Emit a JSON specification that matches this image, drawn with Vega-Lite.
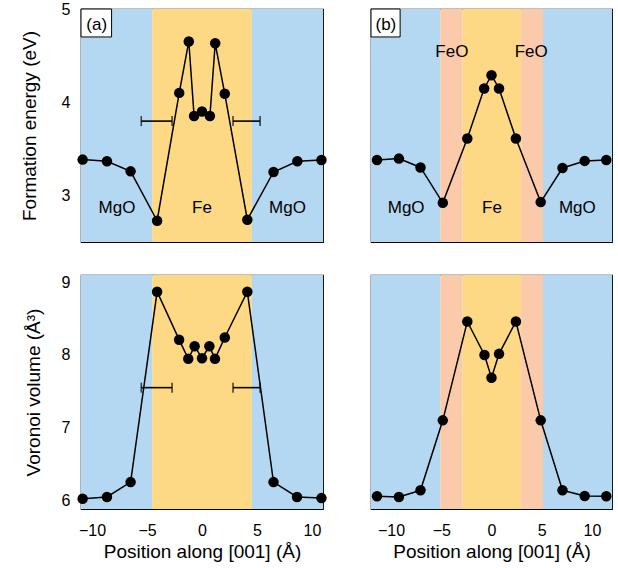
{
  "$schema": "https://vega.github.io/schema/vega-lite/v6.json",
  "padding": {"left": 19, "top": 0, "right": 5, "bottom": 5},
  "background": "white",
  "datasets": {
    "regA": [
      {"start": -11, "end": -4.53, "region": "MgO"},
      {"start": -4.53, "end": 4.53, "region": "Fe"},
      {"start": 4.53, "end": 11, "region": "MgO"}
    ],
    "regB": [
      {"start": -12, "end": -5.1, "region": "MgO"},
      {"start": -5.1, "end": -2.87, "region": "FeO"},
      {"start": -2.87, "end": 2.95, "region": "Fe"},
      {"start": 2.95, "end": 5.13, "region": "FeO"},
      {"start": 5.13, "end": 12, "region": "MgO"}
    ],
    "ea": [
      {"x": -10.85, "y": 3.384}, {"x": -8.64, "y": 3.366}, {"x": -6.49, "y": 3.258},
      {"x": -4.08, "y": 2.728}, {"x": -2.07, "y": 4.1}, {"x": -1.2, "y": 4.652},
      {"x": -0.72, "y": 3.852}, {"x": 0, "y": 3.9}, {"x": 0.72, "y": 3.852},
      {"x": 1.2, "y": 4.632}, {"x": 2.07, "y": 4.09}, {"x": 4.12, "y": 2.739},
      {"x": 6.5, "y": 3.251}, {"x": 8.67, "y": 3.366}, {"x": 10.86, "y": 3.38}
    ],
    "va": [
      {"x": -10.85, "y": 6.02}, {"x": -8.64, "y": 6.046}, {"x": -6.49, "y": 6.25},
      {"x": -4.08, "y": 8.87}, {"x": -2.08, "y": 8.21}, {"x": -1.25, "y": 7.946},
      {"x": -0.67, "y": 8.12}, {"x": 0, "y": 7.955}, {"x": 0.67, "y": 8.12},
      {"x": 1.18, "y": 7.946}, {"x": 2.07, "y": 8.24}, {"x": 4.12, "y": 8.87},
      {"x": 6.5, "y": 6.25}, {"x": 8.64, "y": 6.046}, {"x": 10.86, "y": 6.03}
    ],
    "eb": [
      {"x": -11.4, "y": 3.38}, {"x": -9.22, "y": 3.395}, {"x": -7.07, "y": 3.3},
      {"x": -4.85, "y": 2.92}, {"x": -2.41, "y": 3.61}, {"x": -0.73, "y": 4.147},
      {"x": 0, "y": 4.29}, {"x": 0.75, "y": 4.147}, {"x": 2.43, "y": 3.61},
      {"x": 4.9, "y": 2.928}, {"x": 7.07, "y": 3.294}, {"x": 9.28, "y": 3.37},
      {"x": 11.43, "y": 3.38}
    ],
    "vb": [
      {"x": -11.4, "y": 6.055}, {"x": -9.22, "y": 6.046}, {"x": -7.07, "y": 6.137},
      {"x": -4.85, "y": 7.1}, {"x": -2.41, "y": 8.46}, {"x": -0.7, "y": 8.0},
      {"x": 0, "y": 7.685}, {"x": 0.75, "y": 8.015}, {"x": 2.43, "y": 8.46},
      {"x": 4.9, "y": 7.1}, {"x": 7.07, "y": 6.137}, {"x": 9.28, "y": 6.06},
      {"x": 11.43, "y": 6.055}
    ],
    "errEa": [{"lo": -5.52, "hi": -2.72, "y": 3.797}, {"lo": 2.82, "hi": 5.28, "y": 3.797}],
    "errVa": [{"lo": -5.52, "hi": -2.72, "y": 7.55}, {"lo": 2.82, "hi": 5.28, "y": 7.55}],
    "labA": [
      {"x": -7.73, "y": 2.81, "t": "MgO"}, {"x": 0, "y": 2.81, "t": "Fe"}, {"x": 7.77, "y": 2.81, "t": "MgO"}
    ],
    "labB": [
      {"x": -8.5, "y": 2.81, "t": "MgO"}, {"x": 0.05, "y": 2.81, "t": "Fe"}, {"x": 8.55, "y": 2.81, "t": "MgO"},
      {"x": -3.95, "y": 4.484, "t": "FeO"}, {"x": 3.95, "y": 4.484, "t": "FeO"}
    ],
    "boxA": [{"x1": -11, "x2": -8.22, "y1": 4.7, "y2": 5, "cx": -9.57, "cy": 4.773, "t": "(a)"}],
    "boxB": [{"x1": -12, "x2": -9.1, "y1": 4.7, "y2": 5, "cx": -10.52, "cy": 4.773, "t": "(b)"}]
  },
  "config": {
    "font": "Liberation Sans",
    "view": {"stroke": "black", "strokeWidth": 1.2},
    "axis": {
      "grid": false, "domain": false, "tickColor": "black", "tickSize": -5, "tickWidth": 1,
      "labelFontSize": 16, "labelColor": "black", "labelPadding": 16, "minExtent": 0,
      "titleFontSize": 19, "titleFontWeight": "normal", "titleColor": "black"
    }
  },
  "columns": 2,
  "bounds": "flush",
  "spacing": {"row": 33, "column": 48},
  "concat": [
    {
      "width": 242, "height": 233,
      "layer": [
        {"data": {"name": "regA"}, "mark": {"type": "rect"},
         "encoding": {
           "x": {"field": "start", "type": "quantitative", "scale": {"domain": [-11, 11]}, "axis": {"orient": "bottom", "values": [-10, -5, 0, 5, 10], "labels": false, "title": null}},
           "x2": {"field": "end"},
           "color": {"field": "region", "type": "nominal", "scale": {"domain": ["MgO", "Fe", "FeO"], "range": ["#b4d8f1", "#fdd985", "#fbcaaa"]}, "legend": null}}},
        {"data": {"name": "boxA"}, "mark": {"type": "rect", "fill": "white", "stroke": "black", "strokeWidth": 1},
         "encoding": {
           "x": {"field": "x1", "type": "quantitative", "scale": {"domain": [-11, 11]}, "axis": null}, "x2": {"field": "x2"},
           "y": {"field": "y1", "type": "quantitative", "scale": {"domain": [2.5, 5]}, "axis": null}, "y2": {"field": "y2"}}},
        {"data": {"name": "boxA"}, "mark": {"type": "text", "fontSize": 17, "align": "center", "baseline": "alphabetic", "color": "black"},
         "encoding": {
           "x": {"field": "cx", "type": "quantitative", "scale": {"domain": [-11, 11]}, "axis": null},
           "y": {"field": "cy", "type": "quantitative", "scale": {"domain": [2.5, 5]}, "axis": null},
           "text": {"field": "t"}}},
        {"data": {"name": "errEa"}, "mark": {"type": "rule", "color": "black", "strokeWidth": 1.6},
         "encoding": {
           "x": {"field": "lo", "type": "quantitative", "scale": {"domain": [-11, 11]}, "axis": null}, "x2": {"field": "hi"},
           "y": {"field": "y", "type": "quantitative", "scale": {"domain": [2.5, 5]}, "axis": null}}},
        {"data": {"name": "errEa"}, "mark": {"type": "tick", "orient": "vertical", "color": "black", "size": 10, "thickness": 1.6},
         "encoding": {
           "x": {"field": "lo", "type": "quantitative", "scale": {"domain": [-11, 11]}, "axis": null},
           "y": {"field": "y", "type": "quantitative", "scale": {"domain": [2.5, 5]}, "axis": null}}},
        {"data": {"name": "errEa"}, "mark": {"type": "tick", "orient": "vertical", "color": "black", "size": 10, "thickness": 1.6},
         "encoding": {
           "x": {"field": "hi", "type": "quantitative", "scale": {"domain": [-11, 11]}, "axis": null},
           "y": {"field": "y", "type": "quantitative", "scale": {"domain": [2.5, 5]}, "axis": null}}},
        {"data": {"name": "ea"}, "mark": {"type": "line", "color": "black", "strokeWidth": 1.5},
         "encoding": {
           "x": {"field": "x", "type": "quantitative", "scale": {"domain": [-11, 11]}, "axis": {"orient": "top", "values": [-10, -5, 0, 5, 10], "labels": false, "title": null}},
           "y": {"field": "y", "type": "quantitative", "scale": {"domain": [2.5, 5]}, "axis": {"orient": "left", "values": [3, 4, 5], "title": "Formation energy (eV)", "titlePadding": 22}}}},
        {"data": {"name": "ea"}, "mark": {"type": "point", "filled": true, "color": "black", "opacity": 1, "size": 110},
         "encoding": {
           "x": {"field": "x", "type": "quantitative", "scale": {"domain": [-11, 11]}, "axis": null},
           "y": {"field": "y", "type": "quantitative", "scale": {"domain": [2.5, 5]}, "axis": {"orient": "right", "values": [3, 4, 5], "labels": false, "title": null}}}},
        {"data": {"name": "labA"}, "mark": {"type": "text", "fontSize": 17, "align": "center", "baseline": "alphabetic", "color": "black"},
         "encoding": {
           "x": {"field": "x", "type": "quantitative", "scale": {"domain": [-11, 11]}, "axis": null},
           "y": {"field": "y", "type": "quantitative", "scale": {"domain": [2.5, 5]}, "axis": null},
           "text": {"field": "t"}}}
      ],
      "resolve": {"axis": {"x": "independent", "y": "independent"}}
    },
    {
      "width": 241, "height": 233,
      "layer": [
        {"data": {"name": "regB"}, "mark": {"type": "rect"},
         "encoding": {
           "x": {"field": "start", "type": "quantitative", "scale": {"domain": [-12, 12]}, "axis": {"orient": "bottom", "values": [-10, -5, 0, 5, 10], "labels": false, "title": null}},
           "x2": {"field": "end"},
           "color": {"field": "region", "type": "nominal", "scale": {"domain": ["MgO", "Fe", "FeO"], "range": ["#b4d8f1", "#fdd985", "#fbcaaa"]}, "legend": null}}},
        {"data": {"name": "boxB"}, "mark": {"type": "rect", "fill": "white", "stroke": "black", "strokeWidth": 1},
         "encoding": {
           "x": {"field": "x1", "type": "quantitative", "scale": {"domain": [-12, 12]}, "axis": null}, "x2": {"field": "x2"},
           "y": {"field": "y1", "type": "quantitative", "scale": {"domain": [2.5, 5]}, "axis": null}, "y2": {"field": "y2"}}},
        {"data": {"name": "boxB"}, "mark": {"type": "text", "fontSize": 17, "align": "center", "baseline": "alphabetic", "color": "black"},
         "encoding": {
           "x": {"field": "cx", "type": "quantitative", "scale": {"domain": [-12, 12]}, "axis": null},
           "y": {"field": "cy", "type": "quantitative", "scale": {"domain": [2.5, 5]}, "axis": null},
           "text": {"field": "t"}}},
        {"data": {"name": "eb"}, "mark": {"type": "line", "color": "black", "strokeWidth": 1.5},
         "encoding": {
           "x": {"field": "x", "type": "quantitative", "scale": {"domain": [-12, 12]}, "axis": {"orient": "top", "values": [-10, -5, 0, 5, 10], "labels": false, "title": null}},
           "y": {"field": "y", "type": "quantitative", "scale": {"domain": [2.5, 5]}, "axis": {"orient": "left", "values": [3, 4, 5], "labels": false, "title": null}}}},
        {"data": {"name": "eb"}, "mark": {"type": "point", "filled": true, "color": "black", "opacity": 1, "size": 110},
         "encoding": {
           "x": {"field": "x", "type": "quantitative", "scale": {"domain": [-12, 12]}, "axis": null},
           "y": {"field": "y", "type": "quantitative", "scale": {"domain": [2.5, 5]}, "axis": {"orient": "right", "values": [3, 4, 5], "labels": false, "title": null}}}},
        {"data": {"name": "labB"}, "mark": {"type": "text", "fontSize": 17, "align": "center", "baseline": "alphabetic", "color": "black"},
         "encoding": {
           "x": {"field": "x", "type": "quantitative", "scale": {"domain": [-12, 12]}, "axis": null},
           "y": {"field": "y", "type": "quantitative", "scale": {"domain": [2.5, 5]}, "axis": null},
           "text": {"field": "t"}}}
      ],
      "resolve": {"axis": {"x": "independent", "y": "independent"}}
    },
    {
      "width": 242, "height": 234,
      "layer": [
        {"data": {"name": "regA"}, "mark": {"type": "rect"},
         "encoding": {
           "x": {"field": "start", "type": "quantitative", "scale": {"domain": [-11, 11]}, "axis": {"orient": "bottom", "values": [-10, -5, 0, 5, 10], "title": "Position along [001] (Å)", "labelPadding": 18, "titlePadding": 4}},
           "x2": {"field": "end"},
           "color": {"field": "region", "type": "nominal", "scale": {"domain": ["MgO", "Fe", "FeO"], "range": ["#b4d8f1", "#fdd985", "#fbcaaa"]}, "legend": null}}},
        {"data": {"name": "errVa"}, "mark": {"type": "rule", "color": "black", "strokeWidth": 1.6},
         "encoding": {
           "x": {"field": "lo", "type": "quantitative", "scale": {"domain": [-11, 11]}, "axis": null}, "x2": {"field": "hi"},
           "y": {"field": "y", "type": "quantitative", "scale": {"domain": [5.88, 9.1]}, "axis": null}}},
        {"data": {"name": "errVa"}, "mark": {"type": "tick", "orient": "vertical", "color": "black", "size": 10, "thickness": 1.6},
         "encoding": {
           "x": {"field": "lo", "type": "quantitative", "scale": {"domain": [-11, 11]}, "axis": null},
           "y": {"field": "y", "type": "quantitative", "scale": {"domain": [5.88, 9.1]}, "axis": null}}},
        {"data": {"name": "errVa"}, "mark": {"type": "tick", "orient": "vertical", "color": "black", "size": 10, "thickness": 1.6},
         "encoding": {
           "x": {"field": "hi", "type": "quantitative", "scale": {"domain": [-11, 11]}, "axis": null},
           "y": {"field": "y", "type": "quantitative", "scale": {"domain": [5.88, 9.1]}, "axis": null}}},
        {"data": {"name": "va"}, "mark": {"type": "line", "color": "black", "strokeWidth": 1.5},
         "encoding": {
           "x": {"field": "x", "type": "quantitative", "scale": {"domain": [-11, 11]}, "axis": {"orient": "top", "values": [-10, -5, 0, 5, 10], "labels": false, "title": null}},
           "y": {"field": "y", "type": "quantitative", "scale": {"domain": [5.88, 9.1]}, "axis": {"orient": "left", "values": [6, 7, 8, 9], "title": "Voronoi volume (Å³)", "titlePadding": 18}}}},
        {"data": {"name": "va"}, "mark": {"type": "point", "filled": true, "color": "black", "opacity": 1, "size": 110},
         "encoding": {
           "x": {"field": "x", "type": "quantitative", "scale": {"domain": [-11, 11]}, "axis": null},
           "y": {"field": "y", "type": "quantitative", "scale": {"domain": [5.88, 9.1]}, "axis": {"orient": "right", "values": [6, 7, 8, 9], "labels": false, "title": null}}}}
      ],
      "resolve": {"axis": {"x": "independent", "y": "independent"}}
    },
    {
      "width": 241, "height": 234,
      "layer": [
        {"data": {"name": "regB"}, "mark": {"type": "rect"},
         "encoding": {
           "x": {"field": "start", "type": "quantitative", "scale": {"domain": [-12, 12]}, "axis": {"orient": "bottom", "values": [-10, -5, 0, 5, 10], "title": "Position along [001] (Å)", "labelPadding": 18, "titlePadding": 4}},
           "x2": {"field": "end"},
           "color": {"field": "region", "type": "nominal", "scale": {"domain": ["MgO", "Fe", "FeO"], "range": ["#b4d8f1", "#fdd985", "#fbcaaa"]}, "legend": null}}},
        {"data": {"name": "vb"}, "mark": {"type": "line", "color": "black", "strokeWidth": 1.5},
         "encoding": {
           "x": {"field": "x", "type": "quantitative", "scale": {"domain": [-12, 12]}, "axis": {"orient": "top", "values": [-10, -5, 0, 5, 10], "labels": false, "title": null}},
           "y": {"field": "y", "type": "quantitative", "scale": {"domain": [5.88, 9.1]}, "axis": {"orient": "left", "values": [6, 7, 8, 9], "labels": false, "title": null}}}},
        {"data": {"name": "vb"}, "mark": {"type": "point", "filled": true, "color": "black", "opacity": 1, "size": 110},
         "encoding": {
           "x": {"field": "x", "type": "quantitative", "scale": {"domain": [-12, 12]}, "axis": null},
           "y": {"field": "y", "type": "quantitative", "scale": {"domain": [5.88, 9.1]}, "axis": {"orient": "right", "values": [6, 7, 8, 9], "labels": false, "title": null}}}}
      ],
      "resolve": {"axis": {"x": "independent", "y": "independent"}}
    }
  ]
}
